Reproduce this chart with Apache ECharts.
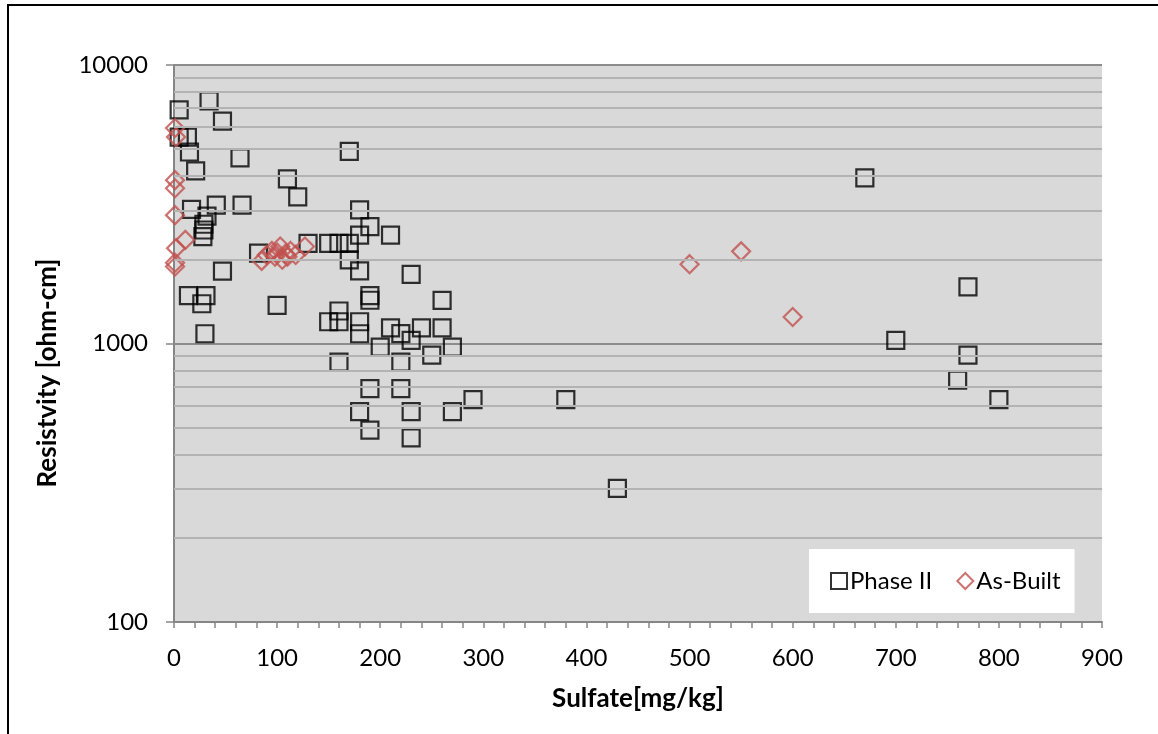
<!DOCTYPE html>
<html>
<head>
<meta charset="utf-8">
<script src="https://cdn.jsdelivr.net/npm/echarts@6/dist/echarts.min.js"></script>
<style>
  html, body { margin: 0; padding: 0; background: #fff; }
  #chart { width: 1158px; height: 734px; }
</style>
</head>
<body>
<div id="chart"></div>
<script>
  // Phase II samples
  var phaseX = [5, 34, 47, 5, 13, 15, 21, 64, 110, 120, 170, 670, 17, 41, 66, 32, 29, 29, 28,
    180, 190, 180, 210, 130, 150, 160, 170, 82, 170, 47, 180, 230, 14, 31, 27, 100, 30,
    190, 190, 260, 160, 150, 160, 180, 180, 210, 220, 240, 260, 230, 200, 250, 270, 160, 220,
    190, 220, 290, 180, 230, 270, 190, 230, 380, 430, 700, 770, 770, 760, 800];
  var phaseY = [6900, 7430, 6290, 5510, 5510, 4870, 4170, 4640, 3900, 3360, 4900, 3935, 3030, 3140, 3140, 2865, 2680, 2556, 2420,
    3020, 2630, 2450, 2450, 2290, 2290, 2290, 2290, 2110, 1995, 1820, 1824, 1771, 1486, 1486, 1389, 1370, 1084,
    1486, 1430, 1429, 1308, 1197, 1197, 1197, 1084, 1138, 1085, 1138, 1138, 1027, 970, 908, 970, 857, 857,
    689, 689, 629, 569, 569, 569, 489, 458, 629, 302, 1027, 1597, 908, 738, 629];
  // As-Built samples
  var builtX = [1, 2, 1, 1, 1, 11, 2, 1, 1, 85, 90, 95, 98, 100, 103, 105, 108, 110, 113, 118, 127, 500, 550, 600];
  var builtY = [5940, 5510, 3860, 3610, 2890, 2355, 2200, 1950, 1890, 1980, 2080, 2150, 2050, 2120, 2230, 2000, 2100, 2050, 2150, 2080, 2230, 1927, 2142, 1245];
  // minor gridlines of the log axis
  var minorGrid = [200, 300, 400, 500, 600, 700, 800, 900, 2000, 3000, 4000, 5000, 6000, 7000, 8000, 9000];

  function zip(xs, ys) {
    return xs.map(function (x, i) { return [x, ys[i]]; });
  }

  var font = 'Lato, "Open Sans", sans-serif';
  var myChart = echarts.init(document.getElementById('chart'));
  var option = {
    backgroundColor: '#fff',
    animation: false,
    textStyle: { fontFamily: font },
    graphic: [
      {
        type: 'rect', silent: true,
        shape: { x: 8, y: 5, width: 1300, height: 900 },
        style: { fill: 'none', stroke: '#000', lineWidth: 2 }
      },
      {
        type: 'text', rotation: Math.PI / 2, x: 48, y: 373,
        style: {
          text: 'Resistvity [ohm-cm]', fill: '#000',
          font: 'bold 26px ' + font, textAlign: 'center', textVerticalAlign: 'middle'
        }
      }
    ],
    grid: {
      left: 174, top: 65, width: 928, height: 557,
      show: true, backgroundColor: '#d9d9d9', borderWidth: 0
    },
    legend: {
      data: ['Phase II', 'As-Built'],
      left: 809, top: 549,
      padding: [20, 14, 20, 21],
      backgroundColor: '#fff',
      itemWidth: 16, itemHeight: 16, itemGap: 24,
      textStyle: { fontSize: 24, color: '#000', fontFamily: font, padding: [0, 0, 0, -2] }
    },
    xAxis: {
      type: 'value', min: 0, max: 900, interval: 100,
      name: 'Sulfate[mg/kg]', nameLocation: 'middle', nameGap: 64,
      nameTextStyle: { fontSize: 26, fontWeight: 'bold', color: '#000', fontFamily: font },
      axisLine: { show: true, lineStyle: { color: '#868686', width: 2 } },
      axisTick: { show: true, length: 6, lineStyle: { color: '#868686', width: 1.5 } },
      minorTick: { show: true, splitNumber: 5, length: 6, lineStyle: { color: '#868686', width: 1.5 } },
      axisLabel: { fontSize: 24, color: '#000', margin: 24, fontFamily: font },
      splitLine: { show: false }
    },
    yAxis: {
      type: 'log', logBase: 10, min: 100, max: 10000,
      axisLine: { show: true, lineStyle: { color: '#868686', width: 2 } },
      axisTick: { show: true, length: 8, lineStyle: { color: '#868686', width: 1.5 } },
      axisLabel: {
        fontSize: 24, color: '#000', margin: 26, fontFamily: font,
        formatter: function (v) { return String(Math.round(v)); }
      },
      splitLine: { show: true, lineStyle: { color: '#8c8c8c', width: 2 } }
    },
    series: [
      {
        name: 'grid', type: 'scatter', data: [], z: 1, silent: true,
        markLine: {
          silent: true, symbol: 'none', animation: false,
          label: { show: false },
          lineStyle: { color: '#b3b3b3', width: 2, type: 'solid' },
          data: minorGrid.map(function (v) { return { yAxis: v }; })
        }
      },
      {
        name: 'Phase II', type: 'scatter', z: 3,
        symbol: 'rect', symbolSize: 17,
        itemStyle: { color: 'rgba(0,0,0,0)', borderColor: '#000', borderWidth: 2.2 },
        data: zip(phaseX, phaseY)
      },
      {
        name: 'As-Built', type: 'scatter', z: 4,
        symbol: 'diamond', symbolSize: 18,
        itemStyle: { color: 'rgba(0,0,0,0)', borderColor: '#c0504d', borderWidth: 2.2 },
        data: zip(builtX, builtY)
      }
    ]
  };
  myChart.setOption(option);
</script>
</body>
</html>
